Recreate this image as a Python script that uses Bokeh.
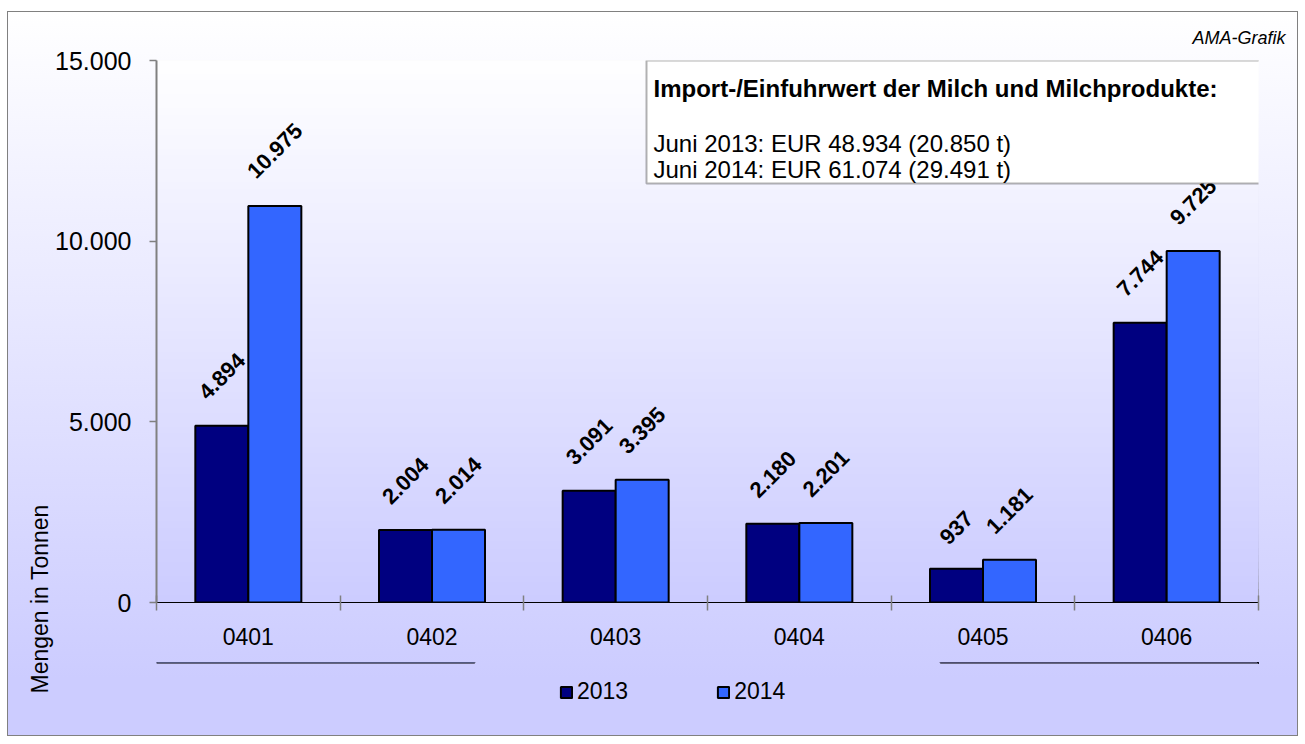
import numpy as np
from bokeh.plotting import figure
from bokeh.layouts import column
from bokeh.models import (ColumnDataSource, Range1d, FixedTicker, LabelSet, Label,
                          BoxAnnotation, Legend, LegendItem, Title)
from bokeh.core.properties import value
from bokeh.embed import file_html
from bokeh.resources import INLINE

# ---------------- data ----------------
categories = ["0401", "0402", "0403", "0404", "0405", "0406"]
series_names = ["2013", "2014"]
values_2013 = [4894, 2004, 3091, 2180, 937, 7744]
values_2014 = [10975, 2014, 3395, 2201, 1181, 9725]
y_ticks = [0, 5000, 10000, 15000]
y_tick_labels = ["0", "5.000", "10.000", "15.000"]
y_axis_title = "Mengen in Tonnen"
source_note = "AMA-Grafik"
box_title = "Import-/Einfuhrwert der Milch und Milchprodukte:"
box_lines = ["Juni 2013: EUR 48.934 (20.850 t)",
             "Juni 2014: EUR 61.074 (29.491 t)"]
colors = ["#000080", "#3366FF"]

FONT = "Liberation Sans"


def de(v):
    return f"{v:,}".replace(",", ".")


def label_offset(t):
    w = 21 * (0.556 * sum(ch.isdigit() for ch in t) + 0.278 * t.count("."))
    return 23.7 + 0.49 * w


W, H = 1291, 725
p = figure(width=W, height=H, frame_width=1102, frame_height=542,
           output_backend="svg", toolbar_location=None, title=None,
           x_range=Range1d(-0.5, len(categories) - 0.5),
           y_range=Range1d(y_ticks[0], y_ticks[-1]),
           min_border_left=149, min_border_right=40,
           min_border_top=49, min_border_bottom=134)

p.border_fill_color = None
p.background_fill_color = None
p.outline_line_color = "#808080"
p.outline_line_width = 1
p.xgrid.visible = False
p.ygrid.visible = False

# plot-area gradient (white at top -> lavender at bottom)
n_bands = 80
for k in range(n_bands):
    f = k / n_bands
    c = int(round(204 + 51 * f))
    p.add_layout(BoxAnnotation(bottom=y_ticks[-1] * k / n_bands,
                               fill_color="#%02x%02xff" % (c, c), fill_alpha=1.0,
                               line_color=None, level="underlay"))

# ---------------- bars ----------------
idx = np.arange(len(categories))
bw = 0.2886
src = ColumnDataSource(dict(
    cat=categories,
    x13=idx - bw / 2, x14=idx + bw / 2,
    v13=values_2013, v14=values_2014,
))
bar_style = dict(width=bw, line_color="black", line_width=2)
p.vbar(x="x13", top="v13", source=src, fill_color=colors[0], **bar_style)
p.vbar(x="x14", top="v14", source=src, fill_color=colors[1], **bar_style)

# ---------------- value labels ----------------
lx = list(idx - bw / 2) + list(idx + bw / 2)
ly = values_2013 + values_2014
lt = [de(v) for v in ly]
lsrc = ColumnDataSource(dict(x=lx, y=ly, text=lt, off=[label_offset(t) for t in lt]))
p.add_layout(LabelSet(x="x", y="y", text="text", y_offset="off", source=lsrc,
                      angle=45, angle_units="deg", text_align="center",
                      text_baseline="middle", text_font=value(FONT),
                      text_font_style="bold", text_font_size="22px",
                      text_color="black"))

# ---------------- axes ----------------
xa = p.xaxis[0]
xa.ticker = FixedTicker(ticks=list(idx), minor_ticks=[i - 0.5 for i in range(len(categories) + 1)])
xa.major_label_overrides = {int(i): c for i, c in zip(idx, categories)}
xa.major_tick_line_color = None
xa.major_tick_in = 0
xa.major_tick_out = 0
xa.minor_tick_line_color = "#808080"
xa.minor_tick_line_width = 1.5
xa.minor_tick_in = 7
xa.minor_tick_out = 8
xa.axis_line_color = "black"
xa.axis_line_width = 1
xa.major_label_text_font = FONT
xa.major_label_text_font_size = "23px"
xa.major_label_text_color = "black"
xa.major_label_standoff = 17

ya = p.yaxis[0]
ya.ticker = FixedTicker(ticks=y_ticks, minor_ticks=[])
ya.major_label_overrides = {t: l for t, l in zip(y_ticks, y_tick_labels)}
ya.major_tick_line_color = "#808080"
ya.major_tick_line_width = 1.5
ya.major_tick_in = 0
ya.major_tick_out = 7
ya.minor_tick_line_color = None
ya.axis_line_color = "#808080"
ya.axis_line_width = 2
ya.major_label_text_font = FONT
ya.major_label_text_font_size = "25px"
ya.major_label_text_color = "black"
ya.major_label_standoff = 18

# y-axis title (as a side title, shifted toward the bottom)
p.add_layout(Title(text=y_axis_title, align="left", offset=-91, standoff=0,
                   text_font=FONT, text_font_style="normal", text_font_size="23px",
                   text_color="black"), "left")

# source note
p.add_layout(Title(text=source_note, align="right", offset=-27, standoff=26,
                   text_font=FONT, text_font_style="italic", text_font_size="18px",
                   text_color="black"), "above")

# info box
p.add_layout(BoxAnnotation(left=490, right=1104, top=542, bottom=419,
                           left_units="screen", right_units="screen",
                           top_units="screen", bottom_units="screen",
                           fill_color="white", fill_alpha=1.0,
                           line_color="black", line_width=2, level="annotation"))
p.add_layout(Label(x=497, y=514, x_units="screen", y_units="screen", text=box_title,
                   text_align="left", text_baseline="alphabetic", text_font=FONT,
                   text_font_style="bold", text_font_size="24px", text_color="black"))
for i, line in enumerate(box_lines):
    p.add_layout(Label(x=497, y=459 - 26 * i, x_units="screen", y_units="screen",
                       text=line, text_align="left", text_baseline="alphabetic",
                       text_font=FONT, text_font_size="24px", text_color="black"))

# ---------------- legend strip (overlaid on the bottom of the chart) ----------------
# the strip's y range lies below zero, so its bars stay outside its view;
# they only provide the legend swatches
q = figure(width=W, height=74, output_backend="svg", toolbar_location=None,
           title=None, x_axis_location=None, y_axis_location=None,
           x_range=Range1d(0, 1), y_range=Range1d(-2, -1),
           min_border_left=149, min_border_right=40, min_border_top=0,
           min_border_bottom=0)
q.border_fill_color = None
q.background_fill_color = None
q.outline_line_color = None
q.xgrid.visible = False
q.ygrid.visible = False
g13 = q.vbar(x="x13", top="v13", source=src, fill_color=colors[0], **bar_style)
g14 = q.vbar(x="x14", top="v14", source=src, fill_color=colors[1], **bar_style)
lg = Legend(items=[LegendItem(label=series_names[0], renderers=[g13]),
                   LegendItem(label=series_names[1], renderers=[g14])],
            orientation="horizontal", location=(403, 31),
            background_fill_alpha=0, border_line_color=None,
            padding=0, margin=0, spacing=88,
            glyph_width=14, glyph_height=14, label_standoff=4, label_height=24,
            label_text_font=FONT, label_text_font_size="23px",
            label_text_color="black")
q.add_layout(lg)
q.styles = {"margin-top": "-74px"}

page = column(p, q, spacing=0)
page.styles = {
    "position": "relative",
    "left": "7px",
    "top": "11px",
    "background": "linear-gradient(to bottom, #FFFFFF 0%, #CCCCFF 92%, #CCCCFF 100%)",
    "outline": "1px solid #808080",
    "outline-offset": "-1px",
}

open("out.html", "w").write(file_html(page, INLINE))
